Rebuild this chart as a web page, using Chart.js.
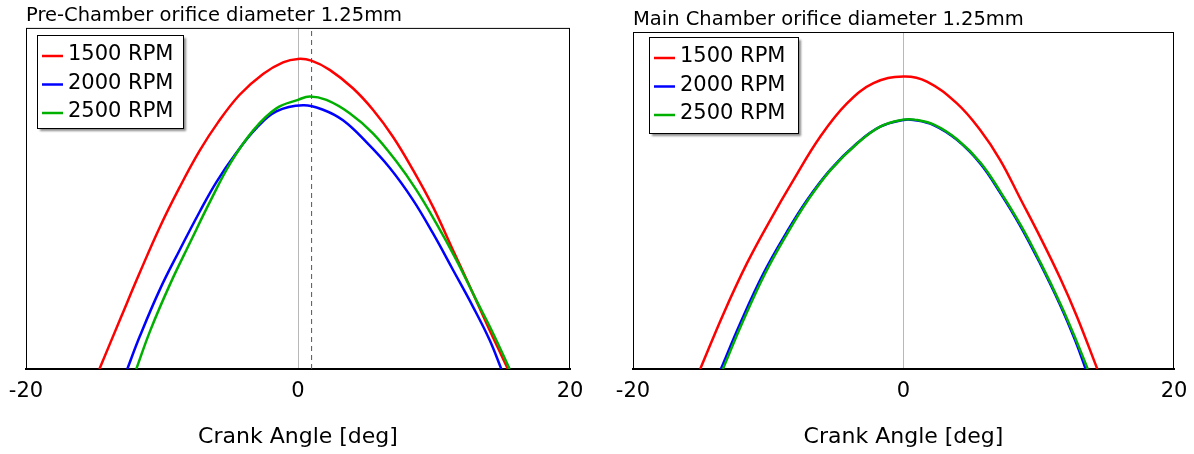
<!DOCTYPE html>
<html>
<head>
<meta charset="utf-8">
<script src="https://cdn.jsdelivr.net/npm/chart.js@4.4.1/dist/chart.umd.min.js"></script>
<style>
  html, body { margin: 0; padding: 0; background: #fff; }
  #wrap { position: relative; width: 1194px; height: 454px; }
  canvas { position: absolute; top: 0; }
  #pre { left: 0; }
  #main { left: 597px; }
</style>
</head>
<body>
<div id="wrap">
  <canvas id="pre" width="597" height="454"></canvas>
  <canvas id="main" width="597" height="454"></canvas>
</div>
<script>
// -----------------------------
// Data (y in % of plot height)
// -----------------------------
const rpmLabels = ["1500 RPM", "2000 RPM", "2500 RPM"]
const rpmColors = ["#ff0000", "#0000ff", "#00b000"]
const angleMin = -20
const angleMax = 20
const angleStep = 20
const preMarkAngle = 1.0

// Pre-Chamber
const pre1500X = [-14.6, -12.97, -11.64, -10.17, -8.70, -7.23, -5.88, -4.29, -2.57, -1.10, 0.0, 0.98, 2.33, 4.04, 5.51, 6.98, 8.45, 9.92, 11.39, 12.86, 14.09, 15.43]
const pre1500Y = [0, 15.6, 28.2, 41.5, 53.3, 64.0, 72.3, 80.4, 86.5, 89.9, 90.9, 90.4, 87.7, 82.3, 76.0, 68.1, 58.4, 47.6, 34.9, 22.2, 11.4, 0]
const pre2000X = [-12.55, -11.64, -10.17, -8.70, -7.23, -6.0, -4.53, -3.06, -1.59, 0.37, 1.84, 3.31, 5.03, 6.74, 8.45, 9.92, 11.39, 12.86, 14.09, 14.95]
const pre2000Y = [0, 9.5, 23.2, 34.9, 46.1, 54.8, 63.4, 70.6, 75.5, 77.3, 76.0, 72.9, 66.5, 59.0, 49.6, 39.8, 29.1, 18.3, 8.5, 0]
const pre2500X = [-11.89, -10.85, -9.38, -7.91, -6.45, -4.98, -3.26, -1.59, 0, 0.86, 2.09, 3.80, 5.51, 7.24, 8.70, 10.17, 11.64, 13.11, 14.34, 15.56]
const pre2500Y = [0, 11.4, 25.1, 37.3, 49.2, 60.3, 70.1, 76.4, 78.9, 79.9, 78.9, 75.0, 69.1, 60.8, 52.5, 42.7, 32.0, 20.2, 10.5, 0]

// Main Chamber
const main1500X = [-15.03, -13.30, -11.57, -9.85, -8.13, -6.16, -4.18, -2.22, 0, 1.73, 3.95, 5.67, 7.15, 8.63, 10.10, 11.58, 12.82, 14.33]
const main1500Y = [0, 16.5, 31.4, 44.2, 56.1, 68.9, 78.8, 84.8, 86.8, 85.3, 78.8, 70.9, 62.0, 50.6, 39.2, 27.0, 15.6, 0]
const main2000X = [-13.50, -12.07, -10.35, -8.62, -7.14, -5.42, -3.44, -1.72, 0, 0.74, 2.22, 3.95, 5.67, 7.15, 8.63, 10.10, 11.58, 12.69, 13.47]
const main2000Y = [0, 13.6, 28.4, 40.7, 50.1, 59.1, 67.0, 71.9, 73.9, 73.9, 72.4, 68.0, 61.0, 52.3, 42.5, 31.3, 19.0, 8.5, 0]
const main2500X = [-13.35, -11.95, -10.25, -8.55, -7.08, -5.38, -3.40, -1.68, 0, 0.80, 2.25, 3.98, 5.70, 7.18, 8.68, 10.15, 11.64, 12.78, 13.62]
const main2500Y = [0, 13.4, 28.2, 40.5, 50.0, 59.1, 67.0, 72.0, 74.0, 74.0, 72.5, 68.1, 61.2, 52.5, 42.6, 31.4, 19.0, 8.4, 0]

const FONT = "'DejaVu Sans', Verdana, sans-serif"

const pts = (xs, ys) => xs.map((x, i) => ({ x, y: ys[i] }))

function rpmSet(i, xs, ys) {
  return {
    label: rpmLabels[i],
    data: pts(xs, ys),
    borderColor: rpmColors[i],
    borderWidth: 2.5,
    pointRadius: 0,
    tension: 0.4,
    inLegend: true,
    order: 3 - i
  }
}

// -----------------------------
// Plugins: plot frame + boxed legend with shadow
// -----------------------------
const framePlugin = {
  id: "frame",
  afterDatasetsDraw(chart) {
    const { ctx, chartArea: a } = chart
    ctx.save()
    ctx.strokeStyle = "#000"
    ctx.lineWidth = 1
    ctx.strokeRect(a.left + 0.5, a.top + 0.5, a.right - a.left - 1, a.bottom - a.top)
    ctx.restore()
  }
}

const boxLegend = {
  id: "boxLegend",
  afterDraw(chart, args, opts) {
    const { ctx, chartArea: a } = chart
    const x = Math.round(a.left + opts.dx)
    const y = Math.round(a.top + opts.dy)
    ctx.save()
    ctx.shadowColor = "rgba(0,0,0,0.45)"
    ctx.shadowOffsetX = 3
    ctx.shadowOffsetY = 3
    ctx.shadowBlur = 2
    ctx.fillStyle = "#fff"
    ctx.fillRect(x, y, opts.w, opts.h)
    ctx.shadowColor = "transparent"
    ctx.strokeStyle = "#000"
    ctx.lineWidth = 1
    ctx.strokeRect(x + 0.5, y + 0.5, opts.w, opts.h)
    ctx.font = "21px " + FONT
    ctx.textBaseline = "middle"
    chart.data.datasets.filter(d => d.inLegend).forEach((d, i) => {
      const ry = y + opts.row0 + i * opts.rowH
      ctx.strokeStyle = d.borderColor
      ctx.lineWidth = 2.5
      ctx.beginPath()
      ctx.moveTo(x + 5, ry + 1)
      ctx.lineTo(x + 26, ry + 1)
      ctx.stroke()
      ctx.fillStyle = "#000"
      ctx.fillText(d.label, x + 31, ry)
    })
    ctx.restore()
  }
}

function makeChart(id, titleText, datasets, pad, titlePad, legendBox) {
  return new Chart(document.getElementById(id), {
    type: "line",
    data: { datasets },
    options: {
      responsive: false,
      animation: false,
      layout: { padding: pad },
      plugins: {
        legend: { display: false },
        tooltip: { enabled: false },
        title: {
          display: true,
          text: titleText,
          align: "start",
          color: "#000",
          font: { family: FONT, size: 19.5, weight: "normal" },
          padding: titlePad
        },
        boxLegend: legendBox
      },
      scales: {
        x: {
          type: "linear",
          min: angleMin,
          max: angleMax,
          ticks: {
            stepSize: angleStep,
            padding: 0,
            color: "#000",
            font: { family: FONT, size: 21 }
          },
          grid: {
            drawTicks: true,
            tickLength: 10.4,
            tickColor: "rgba(0,0,0,0)",
            lineWidth: 1,
            color: c => (c.tick && c.tick.value === 0 ? "#b8b8b8" : "rgba(0,0,0,0)")
          },
          border: { display: true, color: "#000", width: 2 },
          title: {
            display: true,
            text: "Crank Angle [deg]",
            color: "#000",
            font: { family: FONT, size: 22 },
            padding: { top: 19.2, bottom: 3.8 }
          }
        },
        y: { display: false, min: 0, max: 100 }
      }
    },
    plugins: [framePlugin, boxLegend]
  })
}

makeChart("pre", "Pre-Chamber orifice diameter 1.25mm", [
  rpmSet(0, pre1500X, pre1500Y),
  rpmSet(1, pre2000X, pre2000Y),
  rpmSet(2, pre2500X, pre2500Y),
  {
    label: "mark",
    data: [{ x: preMarkAngle, y: 0 }, { x: preMarkAngle, y: 100 }],
    borderColor: "#555",
    borderWidth: 1,
    borderDash: [5, 4],
    pointRadius: 0,
    order: 4
  }
], { left: 26, right: 27, top: 0, bottom: 0 }, { top: 4.5, bottom: 0 },
  { dx: 11, dy: 7, w: 146, h: 93, row0: 20, rowH: 28.5 })

makeChart("main", "Main Chamber orifice diameter 1.25mm", [
  rpmSet(0, main1500X, main1500Y),
  rpmSet(1, main2000X, main2000Y),
  rpmSet(2, main2500X, main2500Y)
], { left: 36, right: 20, top: 0, bottom: 0 }, { top: 7.8, bottom: 0.8 },
  { dx: 16, dy: 5, w: 149, h: 96, row0: 20, rowH: 28.5 })
</script>
</body>
</html>
